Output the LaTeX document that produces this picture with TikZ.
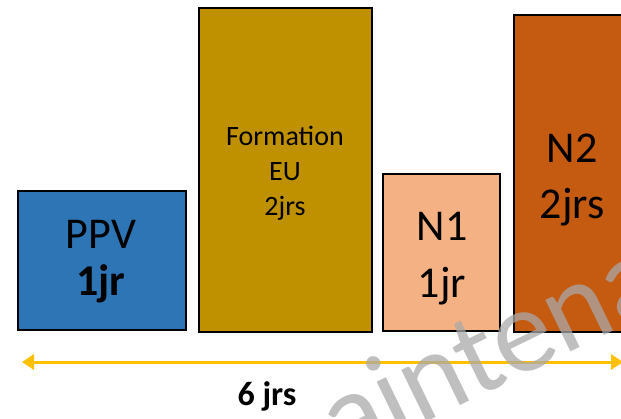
\documentclass[tikz,border=0pt]{standalone}
\usepackage{fontspec}
\setmainfont{Carlito}
\usetikzlibrary{arrows.meta}
\definecolor{ppvblue}{HTML}{2E75B6}
\definecolor{formgold}{HTML}{BF9000}
\definecolor{nonelight}{HTML}{F4B183}
\definecolor{ntwodark}{HTML}{C55A11}
\definecolor{arrowyellow}{HTML}{FFC000}
\definecolor{wmgray}{HTML}{A9A9A9}
\begin{document}
\begin{tikzpicture}[x=1pt,y=-1pt,
  bar/.style={draw=black, line width=2pt},
  bigtxt/.style={anchor=base, font=\fontsize{44}{44}\selectfont, text=black, inner sep=0pt},
  smalltxt/.style={anchor=base, font=\fontsize{28}{28}\selectfont, text=black, inner sep=0pt},
  span/.style={draw=arrowyellow, line width=3pt, {Triangle[length=12pt,width=15pt]}-{Triangle[length=12pt,width=15pt]}}
]
\useasboundingbox (0,0) rectangle (621,418);
\clip (0,0) rectangle (621,418);
% boxes
\draw[bar, fill=ppvblue] (18,191) rectangle (186,330);
\draw[bar, fill=formgold] (199,8) rectangle (372,332);
\draw[bar, fill=nonelight] (383,174) rectangle (500,331);
\draw[bar, fill=ntwodark] (514,15) rectangle (632,332);
% texts
\node[bigtxt] (ppv) at (101,248) {PPV};
\node[bigtxt] (ppvd) at (101,295) {\bfseries 1jr};
\node[smalltxt] (form) at (285,145) {Formation};
\node[smalltxt] (eu) at (285,180) {EU};
\node[smalltxt] (formd) at (285,215) {2jrs};
\node[bigtxt] (none) at (442,240) {N1};
\node[bigtxt] (noned) at (442,297) {1jr};
\node[bigtxt] (ntwo) at (572,162) {N2};
\node[bigtxt] (ntwod) at (572,218) {2jrs};
% span arrow
\coordinate (aL) at (22,362);
\coordinate (aR) at (623,362);
\draw[span] (aL) -- (aR);
\node[anchor=base, font=\fontsize{34}{34}\selectfont\bfseries, inner sep=0pt] (total) at (267,405) {6 jrs};
% watermark
\node[anchor=base west, rotate=26, inner sep=0pt, text=wmgray, opacity=0.74,
      font=\fontsize{120}{120}\selectfont] (wm) at (343,463) {aintena};
\end{tikzpicture}
\end{document}
